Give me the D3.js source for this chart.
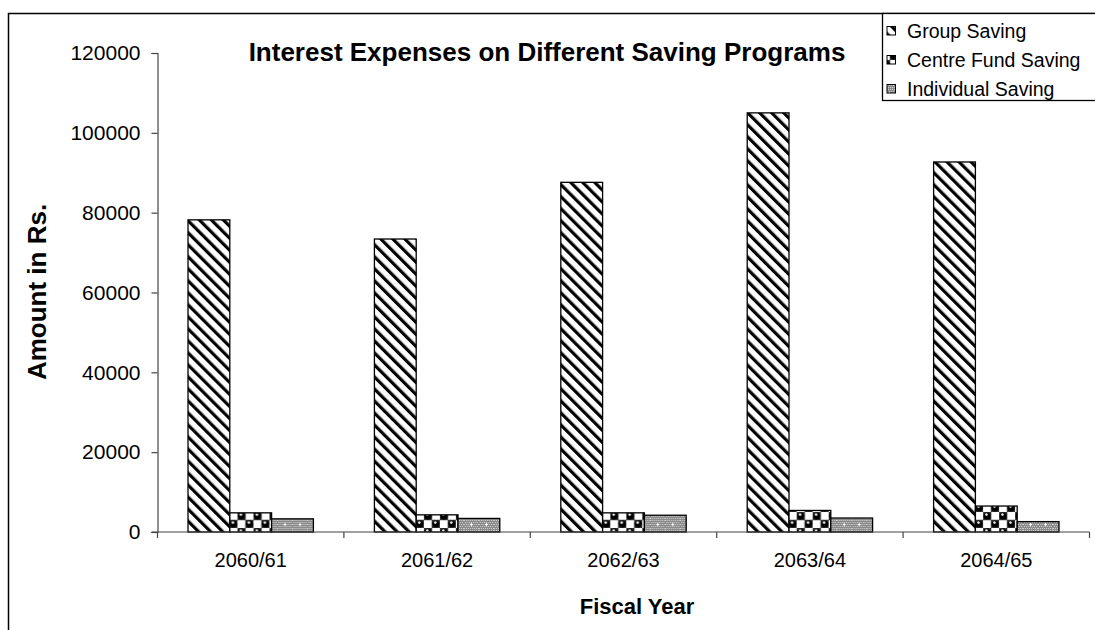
<!DOCTYPE html>
<html>
<head>
<meta charset="utf-8">
<script src="https://cdn.jsdelivr.net/npm/d3@7"></script>
<style>
  html, body { margin: 0; padding: 0; background: #fff; }
  svg { display: block; font-family: "Liberation Sans", Arial, sans-serif; }
</style>
</head>
<body>
<svg id="chart" width="1095" height="630"></svg>
<script>
// Fiscal years and interest paid on each saving program (Rs.)
const years = ["2060/61", "2061/62", "2062/63", "2063/64", "2064/65"];
const seriesNames = ["Group Saving", "Centre Fund Saving", "Individual Saving"];
const groupSaving = [78200, 73400, 87600, 105000, 92700];
const centreFundSaving = [4800, 4300, 4800, 5400, 6500];
const individualSaving = [3300, 3400, 4200, 3500, 2600];
const yTicks = [0, 20000, 40000, 60000, 80000, 100000, 120000];

const seriesValues = [groupSaving, centreFundSaving, individualSaving];

const svg = d3.select("#chart");
const defs = svg.append("defs");

// Diagonal hatch for group saving
const hatch = defs.append("pattern")
  .attr("id", "pat-hatch").attr("patternUnits", "userSpaceOnUse")
  .attr("width", 8.5).attr("height", 8.5)
  .attr("patternTransform", "rotate(-45)");
hatch.append("rect").attr("width", 8.5).attr("height", 8.5).attr("fill", "#fff");
hatch.append("rect").attr("x", 0).attr("y", 0).attr("width", 3.2).attr("height", 8.5).attr("fill", "#000");

// Checkerboard of black balls for centre fund saving
const balls = defs.append("pattern")
  .attr("id", "pat-balls").attr("patternUnits", "userSpaceOnUse")
  .attr("width", 16).attr("height", 16);
balls.append("rect").attr("width", 16).attr("height", 16).attr("fill", "#fff");
balls.append("rect").attr("x", 7.5).attr("y", 0).attr("width", 1).attr("height", 16).attr("fill", "#999");
balls.append("rect").attr("x", 0).attr("y", 7.5).attr("width", 16).attr("height", 1).attr("fill", "#999");
[[4, 4], [12, 12]].forEach(([cx, cy]) => {
  balls.append("rect").attr("x", cx - 4).attr("y", cy - 4).attr("width", 8).attr("height", 8).attr("fill", "#333");
  balls.append("circle").attr("cx", cx).attr("cy", cy).attr("r", 3.6).attr("fill", "#000");
  balls.append("circle").attr("cx", cx - 0.6).attr("cy", cy - 1.4).attr("r", 1.3).attr("fill", "#eee");
});

// Fine grey stipple for individual saving
const stip = defs.append("pattern")
  .attr("id", "pat-stipple").attr("patternUnits", "userSpaceOnUse")
  .attr("width", 15).attr("height", 10);
stip.append("rect").attr("width", 15).attr("height", 10).attr("fill", "#8a8a8a");
for (let i = 0; i < 15; i += 2) {
  for (let j = 0; j < 10; j += 2) {
    stip.append("rect").attr("x", i + (j % 4 === 0 ? 0 : 1)).attr("y", j).attr("width", 1).attr("height", 1).attr("fill", "#cfcfcf");
  }
}
stip.append("rect").attr("x", 6).attr("y", 4).attr("width", 3).attr("height", 1).attr("fill", "#fff");
stip.append("rect").attr("x", 7).attr("y", 3).attr("width", 1).attr("height", 3).attr("fill", "#fff");

const fills = ["url(#pat-hatch)", "url(#pat-balls)", "url(#pat-stipple)"];

// Outer chart frame (runs off the right and bottom edges)
svg.append("rect")
  .attr("x", 8.5).attr("y", 13.5).attr("width", 1200).attr("height", 700)
  .attr("fill", "none").attr("stroke", "#000").attr("stroke-width", 1.5);

const plot = { left: 157.5, right: 1089.5, top: 53, bottom: 532 };

const x = d3.scaleBand().domain(years).range([plot.left, plot.right]).paddingInner(0).paddingOuter(0);
const xInner = d3.scaleBand().domain(seriesNames).range([0, x.bandwidth()]).paddingInner(0).paddingOuter(0.73);
const y = d3.scaleLinear().domain([0, 120000]).range([plot.bottom, plot.top]);

// Bars
const groups = svg.append("g").selectAll("g")
  .data(years).join("g")
  .attr("transform", d => `translate(${x(d)},0)`);

groups.selectAll("rect")
  .data((d, i) => seriesNames.map((s, k) => ({ series: s, k, value: seriesValues[k][i] })))
  .join("rect")
  .attr("x", d => xInner(d.series))
  .attr("y", d => y(d.value))
  .attr("width", xInner.bandwidth())
  .attr("height", d => y(0) - y(d.value))
  .attr("fill", d => fills[d.k])
  .attr("stroke", "#000")
  .attr("stroke-width", 1.3);

// Y axis
const yAxis = svg.append("g")
  .attr("transform", `translate(${plot.left},0)`)
  .call(d3.axisLeft(y).tickValues(yTicks).tickFormat(d3.format("d")).tickSize(6).tickPadding(11));
yAxis.select(".domain").attr("stroke", "#444").attr("stroke-width", 1.2);
yAxis.selectAll(".tick line").attr("stroke", "#444").attr("stroke-width", 1.2);
yAxis.selectAll("text").attr("font-size", 21).attr("fill", "#000").attr("font-family", "Liberation Sans, Arial, sans-serif");

// X axis: ticks on category boundaries
const xAxis = svg.append("g").attr("transform", `translate(0,${plot.bottom})`);
xAxis.append("line")
  .attr("x1", plot.left - 6).attr("x2", plot.right)
  .attr("y1", 0).attr("y2", 0).attr("stroke", "#444").attr("stroke-width", 1.2);
xAxis.selectAll("line.tk")
  .data(years.concat([null]))
  .join("line").attr("class", "tk")
  .attr("x1", (d, i) => plot.left + i * x.step())
  .attr("x2", (d, i) => plot.left + i * x.step())
  .attr("y1", 0).attr("y2", 6).attr("stroke", "#444").attr("stroke-width", 1.2);
xAxis.selectAll("text")
  .data(years).join("text")
  .attr("x", d => x(d) + x.bandwidth() / 2)
  .attr("y", 35)
  .attr("text-anchor", "middle")
  .attr("font-size", 20)
  .text(d => d);

// Titles
svg.append("text")
  .attr("x", 547).attr("y", 61)
  .attr("text-anchor", "middle").attr("font-weight", "bold").attr("font-size", 26)
  .text("Interest Expenses on Different Saving Programs");

svg.append("text")
  .attr("x", 637).attr("y", 614)
  .attr("text-anchor", "middle").attr("font-weight", "bold").attr("font-size", 22)
  .text("Fiscal Year");

svg.append("text")
  .attr("transform", "translate(46,292) rotate(-90)")
  .attr("text-anchor", "middle").attr("font-weight", "bold").attr("font-size", 26)
  .text("Amount in Rs.");

// Legend
const legend = svg.append("g").attr("transform", "translate(882,0)");
legend.append("rect")
  .attr("x", 0.5).attr("y", 13.5).attr("width", 250).attr("height", 87)
  .attr("fill", "#fff").attr("stroke", "#000").attr("stroke-width", 1.3);
const items = legend.selectAll("g.item").data(seriesNames).join("g")
  .attr("class", "item")
  .attr("transform", (d, i) => `translate(0,${31 + i * 29})`);
items.append("rect")
  .attr("x", 5).attr("y", -4.5).attr("width", 8.5).attr("height", 8.5)
  .attr("fill", (d, i) => fills[i]).attr("stroke", "#000").attr("stroke-width", 1);
items.append("text")
  .attr("x", 25).attr("y", 7)
  .attr("font-size", 19.5)
  .text(d => d);
</script>
</body>
</html>
